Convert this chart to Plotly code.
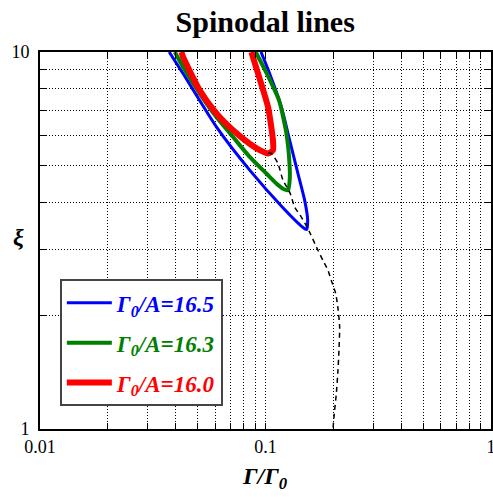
import plotly.graph_objects as go

# Blue: Gamma0/A = 16.5
blue_x = [0.0374, 0.0430, 0.0608, 0.0851, 0.1192, 0.1462, 0.152, 0.1538, 0.1492, 0.1393, 0.1280, 0.1176, 0.1044, 0.0955]
blue_y = [10.0, 8.78, 6.31, 4.86, 3.87, 3.43, 3.38, 3.58, 4.04, 4.76, 5.83, 7.15, 8.76, 10.0]

# Green: Gamma0/A = 16.3
green_x = [0.0396, 0.0431, 0.0511, 0.0606, 0.0718, 0.0851, 0.1009, 0.1117, 0.1195, 0.1258, 0.1280, 0.1280, 0.1238, 0.1148, 0.1012, 0.0905]
green_y = [10.0, 9.13, 7.76, 6.72, 5.95, 5.27, 4.76, 4.48, 4.34, 4.30, 4.57, 4.95, 6.08, 7.44, 8.78, 10.0]

# Red: Gamma0/A = 16.0
red_x = [0.0424, 0.0431, 0.0511, 0.0606, 0.0718, 0.0851, 0.0943, 0.1026, 0.1079, 0.1079, 0.1026, 0.0927, 0.0866]
red_y = [10.0, 9.70, 7.91, 6.87, 6.20, 5.71, 5.49, 5.38, 5.49, 5.83, 7.15, 8.76, 10.0]

# Dashed black line
dash_x = [0.1026, 0.1062, 0.1136, 0.1195, 0.1280, 0.1347, 0.1442, 0.1542, 0.1708, 0.1798, 0.1891, 0.1957,
          0.2047, 0.2096, 0.2132, 0.2117, 0.2096, 0.2061, 0.2025, 0.1991]
dash_y = [5.40, 5.38, 5.06, 4.57, 4.25, 3.88, 3.65, 3.40, 2.98, 2.80, 2.64, 2.48,
          2.29, 2.09, 1.865, 1.617, 1.431, 1.241, 1.121, 1.0]

series_names = ["16.5", "16.3", "16.0"]
series_colors = ["#0000ff", "#008000", "#ff0000"]
series_widths = [3, 4, 6]

x_major = [0.01, 0.1, 1]
x_major_text = ["0.01", "0.1", "1"]
x_minor = [0.02, 0.03, 0.04, 0.05, 0.06, 0.07, 0.08, 0.09, 0.2, 0.3, 0.4, 0.5, 0.6, 0.7, 0.8, 0.9]
y_major = [1, 10]
y_major_text = ["1", "10"]
y_minor = [2, 3, 4, 5, 6, 7, 8, 9]

fig = go.Figure()
for xs, ys, nm, col, w in zip([blue_x, green_x, red_x], [blue_y, green_y, red_y],
                              series_names, series_colors, series_widths):
    fig.add_trace(go.Scatter(
        x=xs, y=ys, mode="lines",
        line=dict(color=col, width=w, shape="spline", smoothing=0.6),
        name=f'<b><i><span style="color:{col}">Γ<sub>0</sub>/A={nm}</span></i></b>',
        legendgroup=nm,
    ))
fig.add_trace(go.Scatter(
    x=dash_x, y=dash_y, mode="lines",
    line=dict(color="black", width=1.5, dash="5px,4px", shape="spline", smoothing=0.6),
    showlegend=False,
))

GRID_DASH = "1px,2px"
axis_common = dict(
    type="log", showline=True, linecolor="black", linewidth=2, mirror="ticks",
    ticks="inside", ticklen=6, tickcolor="black", tickwidth=1,
    showgrid=True, gridcolor="black", griddash=GRID_DASH, gridwidth=1,
    zeroline=False, automargin=False, ticklabeloverflow="allow",
    tickfont=dict(family="Liberation Serif", size=18, color="black"),
)

fig.update_xaxes(
    **axis_common, range=[-2, 0], tickmode="array", tickvals=x_major, ticktext=x_major_text,
    minor=dict(tickmode="array", tickvals=x_minor, ticks="inside", ticklen=6, tickcolor="black",
               showgrid=True, gridcolor="black", griddash=GRID_DASH, gridwidth=1),
)
fig.update_yaxes(
    **axis_common, range=[0, 1], tickmode="array", tickvals=y_major, ticktext=y_major_text,
    ticklabelstandoff=5,
    minor=dict(tickmode="array", tickvals=y_minor, ticks="inside", ticklen=6, tickcolor="black",
               showgrid=True, gridcolor="black", griddash=GRID_DASH, gridwidth=1),
)

fig.update_layout(
    width=493, height=497,
    margin=dict(l=40, r=2, t=52, b=68),
    paper_bgcolor="white", plot_bgcolor="white",
    title=dict(text="<b>Spinodal lines</b>", x=0.538, xanchor="center", y=0.978, yanchor="top",
               font=dict(family="Liberation Serif", size=30, color="black")),
    showlegend=True,
    legend=dict(x=0.044, y=0.397, xanchor="left", yanchor="top",
                bgcolor="white", bordercolor="#444", borderwidth=2,
                font=dict(family="Liberation Serif", size=23),
                itemwidth=45, tracegroupgap=7, traceorder="grouped"),
    annotations=[
        dict(text="<b><i>ξ</i></b>", xref="paper", yref="paper", x=-0.064, y=0.508,
             showarrow=False, font=dict(family="Liberation Serif", size=24, color="black")),
        dict(text="<b><i>Γ/Γ<sub>0</sub></i></b>", xref="paper", yref="paper", x=0.498, y=-0.13,
             xanchor="center", yanchor="middle",
             showarrow=False, font=dict(family="Liberation Serif", size=24, color="black")),
    ],
)

fig.write_html("out.html", config={"displayModeBar": False},
               post_script="document.body.style.margin='0';document.body.style.overflow='hidden';")
